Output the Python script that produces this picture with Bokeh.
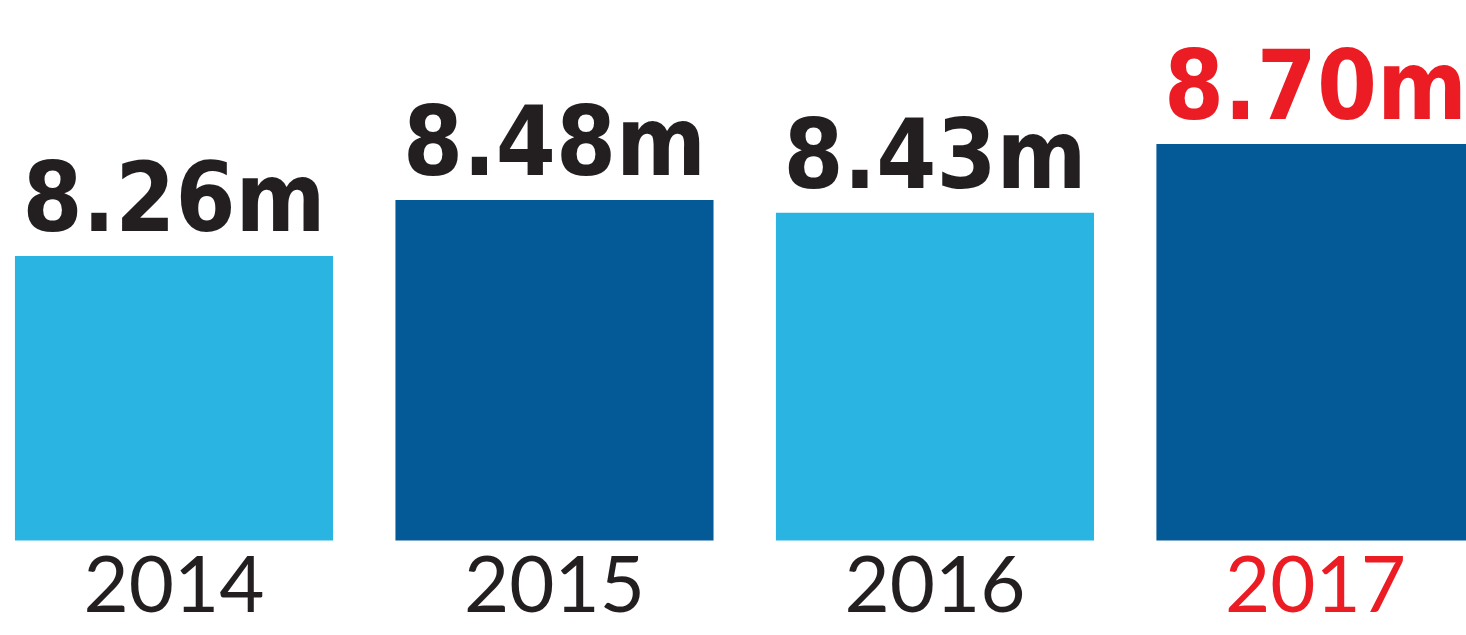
from bokeh.plotting import figure
from bokeh.models import ColumnDataSource, Range1d
from bokeh.core.properties import value
from bokeh.embed import file_html
from bokeh.resources import INLINE

# Annual totals (millions)
years = ["2014", "2015", "2016", "2017"]
totals = [8.26, 8.48, 8.43, 8.70]
labels = ["8.26m", "8.48m", "8.43m", "8.70m"]

bar_colors = ["#29b4e1", "#045a97", "#29b4e1", "#045a97"]
text_colors = ["#231f20", "#231f20", "#231f20", "#ec1c24"]

BASE = 7.1423  # value axis baseline for the bars

src = ColumnDataSource(dict(
    x=list(range(len(years))),
    year=years,
    total=totals,
    label=labels,
    bar_color=bar_colors,
    text_color=text_colors,
))

p = figure(
    width=1466, height=635,
    x_range=Range1d(-0.456, 3.397),
    y_range=Range1d(6.769, 9.264),
    output_backend="svg", toolbar_location=None,
    x_axis_location=None, y_axis_location=None,
    min_border=0, outline_line_color=None,
    background_fill_color="white", border_fill_color="white",
)
p.grid.visible = False

p.vbar(x="x", top="total", bottom=BASE, width=0.836, source=src,
       fill_color="bar_color", line_color=None)

# value labels above each bar
p.text(x="x", y="total", text="label", source=src,
       text_font=value("DejaVu Sans Condensed"), text_font_style="bold",
       text_font_size="96px", text_color="text_color",
       text_align="center", text_baseline="alphabetic", y_offset=-58)

# year labels under the bars
p.text(x="x", y=BASE, text="year", source=src,
       text_font=value("Lato"), text_font_size="78px",
       text_color="text_color", text_align="center",
       text_baseline="alphabetic", y_offset=44)

open("out.html", "w").write(file_html(p, INLINE))
